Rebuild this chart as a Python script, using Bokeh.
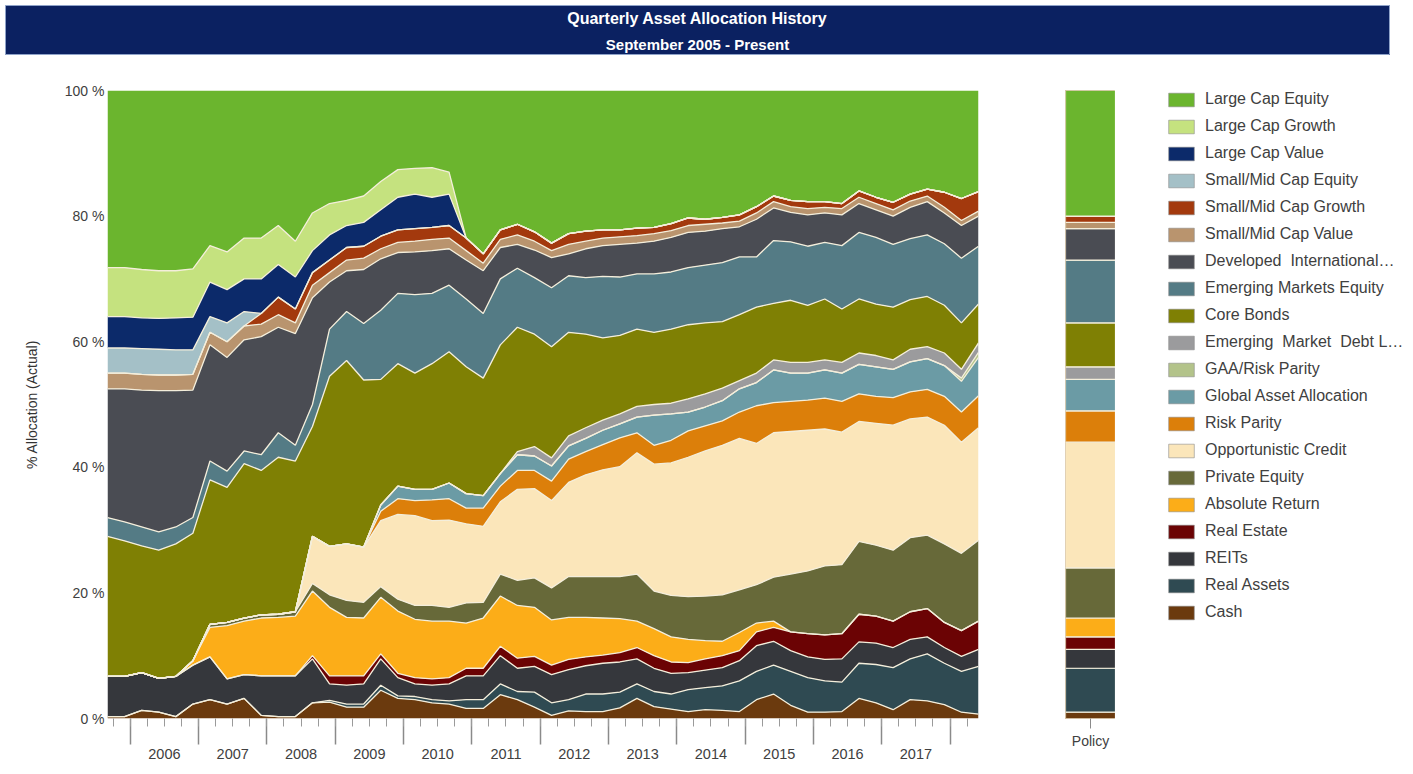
import pandas as pd
from bokeh.plotting import figure
from bokeh.models import (ColumnDataSource, Range1d, FixedTicker, LinearAxis,
                          Legend, LegendItem, FactorRange, Label, Spacer)
from bokeh.layouts import column, row
from bokeh.embed import file_html
from bokeh.resources import INLINE

FONT = "Liberation Sans"
NARROW = "Liberation Sans Narrow, Liberation Sans"
SEP = "#f4eedb"

# ---------------- data (quarterly, Sep 2005 - Jun 2018, % of portfolio) ----------------
quarter_dates = pd.date_range("2005-09-01", "2018-06-01", freq="3MS")
years = list(range(2006, 2018))

cash = [0.3,0.3,1.3,1.0,0.3,2.3,3.0,2.3,3.2,0.5, 0.3,0.3,2.5,2.6,1.8,1.8,4.5,3.2,3.0,2.5,
        2.3,1.6,1.6,3.8,3.0,1.8,0.5,1.2,1.1,1.1, 1.7,3.2,1.9,1.5,1.1,1.4,1.3,1.1,3.0,3.9,
        2.1,1.0,1.0,1.1,3.2,2.5,1.4,3.0,2.8,2.2, 1.0,0.7]
real_assets = [0,0,0,0,0,0,0,0,0,0, 0,0,0,0.3,0.5,0.5,0.8,0.4,0.5,0.5,
               0.5,1.4,1.4,1.7,1.3,2.4,2.0,1.8,2.8,2.8, 2.5,2.3,2.4,2.4,3.5,3.5,3.9,4.9,4.5,4.6,
               5.4,5.5,5.0,4.7,5.6,6.1,6.7,6.5,7.5,6.6, 6.5,7.6]
reits = [6.4,6.4,6.0,5.4,6.4,6.2,6.8,4.0,3.8,6.3, 6.5,6.5,7.0,2.6,3.0,3.2,4.2,2.9,2.0,2.3,
         2.7,3.8,3.8,4.5,3.7,4.1,4.5,4.8,4.5,4.9, 4.8,4.0,3.7,3.3,2.7,2.8,2.9,3.2,4.1,3.8,
         3.3,3.3,3.4,3.7,3.4,3.4,3.2,3.1,2.7,2.5, 2.4,2.7]
real_estate = [0,0,0,0,0,0,0,0,0,0, 0,0,0.5,1.3,1.5,1.3,0.8,0.7,1.0,1.0,
               1.0,1.2,1.2,1.5,1.6,1.6,1.5,1.6,1.4,1.3, 1.5,1.8,2.0,1.8,1.6,1.8,1.9,1.6,2.2,2.2,
               3.0,3.7,3.9,4.0,4.4,4.3,4.2,4.4,4.5,4.0, 4.1,4.5]
absolute_return = [0,0,0,0,0,0.7,4.7,8.5,8.5,9.2, 9.3,9.5,10.3,10.9,9.3,9.2,9.0,9.9,9.3,9.2,
                   9.0,7.2,8.0,8.0,8.4,7.8,7.2,6.7,6.3,5.9, 5.4,4.2,4.3,4.0,3.7,2.9,2.3,2.9,1.4,1.0,
                   0,0,0,0,0,0,0,0,0,0, 0,0]
private_equity = [0,0,0,0,0,0,0.5,0.5,0.5,0.5, 0.5,0.7,1.2,2.0,2.7,2.5,1.7,1.9,2.2,2.5,
                  2.2,3.2,2.5,3.5,4.0,4.7,5.1,6.5,6.5,6.6, 6.7,7.5,6.0,6.6,6.8,7.1,7.4,6.8,6.1,7.0,
                  9.2,10.0,11.0,11.0,11.6,11.3,11.3,11.8,11.7,12.5, 12.3,12.9]
opportunistic_credit = [0,0,0,0,0,0,0,0,0,0, 0,0,7.5,7.7,9.0,8.8,10.5,13.5,14.3,13.5,
                        13.9,12.6,12.1,11.5,14.5,14.2,13.9,15.0,16.2,17.0, 17.5,19.3,20.2,21.1,22.2,23.1,23.8,24.1,22.5,23.0,
                        22.7,22.4,21.8,21.1,19.1,19.4,19.9,18.9,18.8,18.9, 17.7,17.9]
risk_parity = [0,0,0,0,0,0,0,0,0,0, 0,0,0,0,0,0,1.5,2.5,2.4,3.3,
               3.4,2.5,2.9,2.5,3.0,2.9,3.1,3.7,3.7,4.0, 4.6,3.2,3.0,3.6,4.2,4.0,3.9,4.2,6.0,4.8,
               4.8,4.8,4.9,4.9,4.4,4.3,4.4,4.3,4.4,4.6, 4.8,5.1]
global_asset_allocation = [0,0,0,0,0,0,0,0,0,0, 0,0,0,0,0,0,1.0,2.0,1.8,1.7,
                           2.5,2.3,2.0,2.0,2.5,2.3,2.4,2.1,2.1,2.3, 2.2,2.5,4.8,4.2,3.0,3.0,3.2,3.7,3.7,5.2,
                           4.5,4.3,4.5,4.5,4.7,4.7,4.5,4.8,4.9,4.9, 4.9,6.1]
gaa_risk_parity = [0]*50 + [0.5,0.8]
emerging_market_debt = [0,0,0,0,0,0,0,0,0,0, 0,0,0,0,0,0,0,0,0,0,
                        0,0,0,0,0.5,1.5,1.3,1.6,1.7,1.6, 1.6,1.7,1.7,1.7,2.1,2.1,2.0,1.3,1.5,1.6,
                        1.7,1.7,1.6,1.7,1.8,1.8,1.5,2.0,1.9,2.0, 1.4,1.5]
core_bonds = [22.3,21.6,20.2,20.4,21.1,20.3,23.0,21.5,24.6,23.0, 25.0,24.0,17.5,27.1,29.2,26.6,20.0,19.5,18.5,20.0,
              20.9,20.2,18.7,20.5,19.8,17.9,17.7,16.5,14.9,13.1, 12.5,12.3,11.5,11.8,11.8,11.3,10.6,10.5,10.5,9.0,
              9.9,9.1,9.7,8.5,8.6,8.2,8.4,7.9,8.0,7.6, 7.4,6.2]
em_equity = [3.0,3.0,3.0,2.9,2.7,2.5,3.0,2.6,2.0,2.5, 3.9,2.5,3.5,7.5,7.8,9.0,11.0,11.2,12.5,11.2,
             10.6,10.8,10.3,10.5,9.4,9.0,9.4,9.0,9.0,9.8, 9.3,8.8,9.3,9.1,9.1,9.2,9.4,9.2,8.0,10.0,
             9.3,9.4,9.0,10.1,10.6,10.6,10.0,9.7,9.8,9.8, 10.3,9.2]
developed_intl = [20.5,21.2,21.8,22.5,21.7,20.3,18.5,18.1,17.7,18.8, 16.8,17.8,17.0,7.5,6.5,8.6,8.2,6.5,6.8,6.8,
                  5.8,6.2,6.8,5.0,3.8,4.4,4.8,3.5,4.6,4.9, 5.2,4.9,5.2,5.5,5.6,5.4,5.4,4.8,6.0,5.2,
                  4.7,5.0,4.7,4.9,4.6,4.4,4.5,5.0,5.3,4.9, 5.2,4.8]
smid_value = [2.5,2.5,2.5,2.5,2.5,2.5,2.0,2.5,2.2,2.0, 2.0,1.7,2.0,1.5,1.7,1.8,1.6,1.6,1.7,1.8,
              1.7,1.5,1.2,1.3,1.5,1.4,1.1,1.5,1.2,1.2, 1.2,1.2,1.2,1.1,1.1,1.1,0.9,0.9,1.0,1.0,
              0.9,1.0,0.9,1.0,1.0,1.0,1.0,1.0,0.9,0.9, 0.8,0.8]
smid_growth = [0,0,0,0,0,0,0,0,0,1.7, 2.8,2.2,2.0,2.0,2.0,1.9,2.0,2.0,2.0,1.9,
               2.0,2.0,1.5,1.5,1.7,1.5,1.2,1.7,1.6,1.3, 1.1,1.2,1.0,1.1,1.2,0.8,0.9,1.0,1.0,0.9,
               1.0,1.1,0.9,0.8,1.0,1.0,1.2,1.1,1.1,2.4, 3.5,3.1]
smid_equity = [4.0,4.0,4.1,4.1,4.0,3.9,2.5,3.0,2.3] + [0]*43
large_value = [5.0,5.0,4.9,4.9,5.1,5.2,5.5,5.3,5.2,5.5, 5.2,5.1,3.5,4.0,3.5,3.8,4.2,5.2,5.5,4.8,
               5.0] + [0]*31
large_growth = [7.8,7.8,7.7,7.6,7.5,7.7,5.8,6.0,6.5,6.5, 6.2,5.7,6.0,5.0,4.0,4.2,4.5,4.4,4.1,4.7,
                3.5] + [0]*31
large_equity = [28.2,28.2,28.5,28.7,28.7,28.4,24.7,25.7,23.5,23.5, 21.5,24.0,19.5,18.0,17.5,16.8,14.5,12.6,12.4,12.3,
                13.0,23.5,26.0,22.2,21.3,22.5,24.3,22.8,22.4,22.2, 22.2,21.9,21.8,21.2,20.3,20.5,20.2,19.8,18.5,16.8,
                17.5,17.7,17.7,18.0,16.0,17.0,17.8,16.5,15.7,16.2, 17.2,16.1]

# Policy targets (same order, bottom to top)
policy = [1, 7, 3, 2, 3, 8, 20, 5, 5, 0, 2, 7, 10, 5, 1, 1, 0, 0, 0, 20]

names = ["Cash", "Real Assets", "REITs", "Real Estate", "Absolute Return", "Private Equity",
         "Opportunistic Credit", "Risk Parity", "Global Asset Allocation", "GAA/Risk Parity",
         "Emerging  Market  Debt L\u2026", "Core Bonds", "Emerging Markets Equity",
         "Developed  International\u2026", "Small/Mid Cap Value", "Small/Mid Cap Growth",
         "Small/Mid Cap Equity", "Large Cap Value", "Large Cap Growth", "Large Cap Equity"]
series = [cash, real_assets, reits, real_estate, absolute_return, private_equity,
          opportunistic_credit, risk_parity, global_asset_allocation, gaa_risk_parity,
          emerging_market_debt, core_bonds, em_equity, developed_intl, smid_value, smid_growth,
          smid_equity, large_value, large_growth, large_equity]
colors = ["#6b3a0e", "#2f4a52", "#35373c", "#6b0304", "#fcad18", "#676939",
          "#fbe6ba", "#dc7f0a", "#6b9ba5", "#b3c38a", "#9b9b9d", "#7f8004",
          "#547b85", "#4a4c53", "#b9946e", "#a3390d", "#a4c0c7", "#0c2a6a",
          "#c5e27f", "#6bb52e"]
keys = ["s%d" % i for i in range(len(series))]

months = [(d.year - 2005) * 12 + d.month - 9 for d in quarter_dates]
year_start_ticks = [(y - 2005) * 12 - 8 for y in years + [2018]]
quarter_ticks = [m for m in range(0, months[-1] + 1) if (m + 9 - 1) % 3 == 0]
year_mid_ticks = [(y - 2005) * 12 - 2 for y in years]

src = ColumnDataSource(dict(m=months, **{k: v for k, v in zip(keys, series)}))

# ---------------- header ----------------
hdr = figure(width=1385, height=50, x_range=Range1d(0, 1), y_range=Range1d(0, 1),
             output_backend="svg", toolbar_location=None, min_border=0,
             x_axis_location=None, y_axis_location=None,
             background_fill_color="#0b2161", border_fill_color="#0b2161",
             outline_line_color="#8fa3c9")
hdr.grid.visible = False
hdr.add_layout(Label(x=692, y=37, x_units="screen", y_units="screen",
                     text="Quarterly Asset Allocation History", text_align="center",
                     text_baseline="middle", text_color="white", text_font=NARROW,
                     text_font_style="bold", text_font_size="16px"))
hdr.add_layout(Label(x=692, y=11, x_units="screen", y_units="screen",
                     text="September 2005 - Present", text_align="center",
                     text_baseline="middle", text_color="white", text_font=NARROW,
                     text_font_style="bold", text_font_size="15px"))

# ---------------- main stacked area ----------------
p = figure(frame_width=871, frame_height=628, x_range=Range1d(0, months[-1]),
           y_range=Range1d(0, 100), output_backend="svg", toolbar_location=None,
           min_border_left=107, min_border_right=10, min_border_top=35, min_border_bottom=0,
           outline_line_color=None)
p.grid.visible = False
p.varea_stack(stackers=keys, x="m", fill_color=colors, source=src)
p.vline_stack(stackers=keys[:-1], x="m", line_color=SEP, line_width=1.3, source=src)

p.yaxis.ticker = FixedTicker(ticks=[0, 20, 40, 60, 80, 100])
p.yaxis.major_label_overrides = {v: "%d %%" % v for v in [0, 20, 40, 60, 80, 100]}
p.yaxis.major_tick_line_color = None
p.yaxis.major_tick_out = 0
p.yaxis.major_tick_in = 0
p.yaxis.minor_tick_line_color = None
p.yaxis.axis_line_color = None
p.yaxis.major_label_text_font = FONT
p.yaxis.major_label_text_font_size = "14px"
p.yaxis.major_label_text_color = "#404040"
p.yaxis.major_label_standoff = 3
p.yaxis.axis_label = "% Allocation (Actual)"
p.yaxis.axis_label_text_font = FONT
p.yaxis.axis_label_text_font_size = "14px"
p.yaxis.axis_label_text_font_style = "normal"
p.yaxis.axis_label_text_color = "#333333"
p.yaxis.axis_label_standoff = 22

p.xaxis.ticker = FixedTicker(ticks=year_start_ticks, minor_ticks=quarter_ticks)
p.xaxis.major_label_overrides = {t: "" for t in year_start_ticks}
p.xaxis.major_label_text_font_size = "1px"
p.xaxis.major_label_standoff = 0
p.xaxis.major_tick_out = 26
p.xaxis.major_tick_in = 0
p.xaxis.minor_tick_out = 8
p.xaxis.minor_tick_in = 0
p.xaxis.major_tick_line_color = "#8a8a8a"
p.xaxis.minor_tick_line_color = "#9a9a9a"
p.xaxis.major_tick_line_width = 1.5
p.xaxis.axis_line_color = None

yr_axis = LinearAxis(ticker=FixedTicker(ticks=year_mid_ticks),
                     major_label_overrides={t: str(y) for t, y in zip(year_mid_ticks, years)},
                     major_tick_line_color=None, minor_tick_line_color=None,
                     major_tick_out=0, minor_tick_out=0,
                     axis_line_color=None, major_label_standoff=4,
                     major_label_text_font=FONT, major_label_text_font_size="14.5px",
                     major_label_text_color="#404040")
p.add_layout(yr_axis, "below")

# sanity check of column sums (debug text if something is off)
bad = [i for i in range(len(months)) if abs(sum(s[i] for s in series) - 100) > 0.05]
if bad or any(len(s) != len(months) for s in series):
    p.add_layout(Label(x=200, y=50, x_units="screen", y_units="screen",
                       text="BAD " + str(bad) + " " + str([len(s) for s in series]),
                       text_color="red", text_font_size="12px"))

# ---------------- policy bar ----------------
psrc = ColumnDataSource(dict(x=["Policy"], **{k: [v] for k, v in zip(keys, policy)}))
pf = figure(frame_width=50, frame_height=628, x_range=FactorRange("Policy", range_padding=0),
            y_range=Range1d(0, 100), output_backend="svg", toolbar_location=None,
            min_border_left=77, min_border_right=0, min_border_top=35, min_border_bottom=48,
            y_axis_location=None, outline_line_color="#bfa27c")
pf.grid.visible = False
pf.vbar_stack(stackers=keys, x="x", width=1.0, fill_color=colors, line_color=SEP,
              line_width=1.2, source=psrc)
pf.xaxis.major_tick_out = 10
pf.xaxis.major_tick_in = 0
pf.xaxis.major_tick_line_color = "#8a8a8a"
pf.xaxis.axis_line_color = None
pf.xaxis.major_label_text_font = FONT
pf.xaxis.major_label_text_font_size = "14px"
pf.xaxis.major_label_text_color = "#404040"
pf.xaxis.major_label_standoff = 4

# ---------------- legend (swatches via off-canvas proxy glyphs) ----------------
lf = figure(width=290, height=711, x_range=Range1d(0, 1), y_range=Range1d(0, 1),
            output_backend="svg", toolbar_location=None,
            min_border_left=50, min_border_right=0, min_border_top=32, min_border_bottom=0,
            x_axis_location=None, y_axis_location=None, outline_line_color=None)
lf.grid.visible = False
items = []
for name, c in reversed(list(zip(names, colors))):
    r = lf.rect(x=[-5], y=[-5], width=1, height=1, fill_color=c, line_color="#8c8c8c",
                line_alpha=0.6)
    items.append(LegendItem(label=name, renderers=[r]))
legend = Legend(items=items, location="top_left", glyph_width=32, glyph_height=17,
                label_height=17, spacing=9, label_standoff=8, padding=0, margin=0,
                border_line_color=None, background_fill_alpha=0,
                label_text_font=FONT, label_text_font_size="16px",
                label_text_color="#404040")
lf.add_layout(legend)

layout = column(Spacer(height=5),
                row(Spacer(width=5), hdr),
                row(p, pf, lf))
open("out.html", "w").write(file_html(layout, INLINE))
